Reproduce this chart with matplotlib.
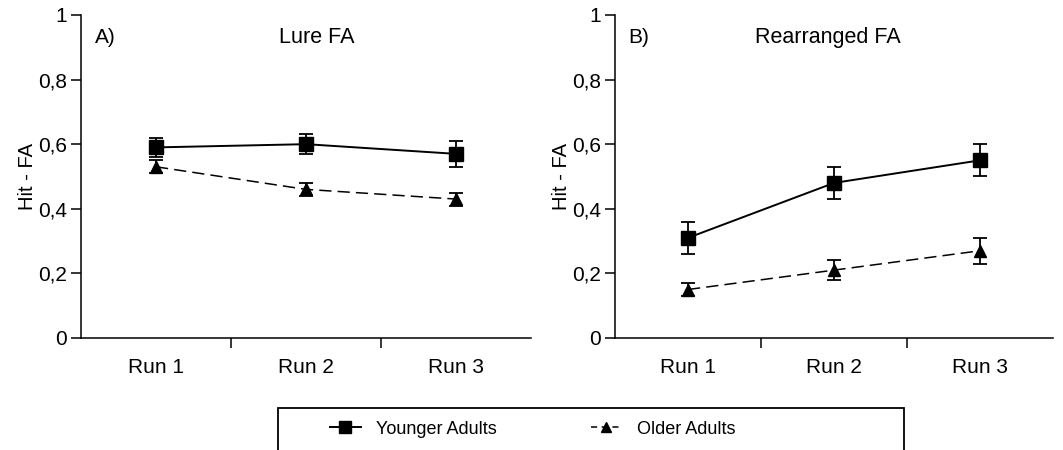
import matplotlib.pyplot as plt
from matplotlib.lines import Line2D
from matplotlib.patches import Rectangle
from matplotlib.ticker import FuncFormatter

plt.rcParams['font.family'] = ['Liberation Sans', 'DejaVu Sans']

runs = ['Run 1', 'Run 2', 'Run 3']

# Panel A: Lure FA
lure_young = [0.59, 0.60, 0.57]
lure_young_err = [0.03, 0.03, 0.04]
lure_old = [0.53, 0.46, 0.43]
lure_old_err = [0.02, 0.02, 0.02]

# Panel B: Rearranged FA
rear_young = [0.31, 0.48, 0.55]
rear_young_err = [0.05, 0.05, 0.05]
rear_old = [0.15, 0.21, 0.27]
rear_old_err = [0.02, 0.03, 0.04]

panels = [
    ('A)', 'Lure FA', 0.524, lure_young, lure_young_err, lure_old, lure_old_err),
    ('B)', 'Rearranged FA', 0.486, rear_young, rear_young_err, rear_old, rear_old_err),
]

fig = plt.figure(figsize=(10.63, 4.5), dpi=100)
axes = [fig.add_axes([0.0762, 0.249, 0.4233, 0.7177]),
        fig.add_axes([0.5786, 0.249, 0.412, 0.7177])]

fmt = FuncFormatter(lambda v, p: ('%g' % round(v, 1)).replace('.', ','))

for ax, (tag, title, tx, yv, ye, ov, oe) in zip(axes, panels):
    x = list(range(len(runs)))
    ax.errorbar(x, yv, yerr=ye, color='black', marker='s', markersize=9.5,
                lw=1.4, capsize=5, elinewidth=1.3, capthick=1.3)
    ho = ax.errorbar(x, ov, yerr=oe, color='black', marker='^', markersize=8.5,
                     lw=1.1, dashes=(8, 4), capsize=5, elinewidth=1.3,
                     capthick=1.3)
    for e in ho[2]:
        e.set_linestyle('-')
    ax.set_xlim(-0.5, 2.5)
    ax.set_ylim(0, 1)
    ax.set_xticks([0.5, 1.5])
    ax.set_xticklabels([])
    for i, r in enumerate(runs):
        ax.text(i, -0.093, r, ha='center', va='center', fontsize=15)
    ax.set_yticks([0, 0.2, 0.4, 0.6, 0.8, 1.0])
    ax.yaxis.set_major_formatter(fmt)
    ax.tick_params(axis='both', direction='out', length=7, width=1.1,
                   labelsize=15, pad=3)
    for s in ['left', 'bottom']:
        ax.spines[s].set_linewidth(1.1)
    ax.spines['top'].set_visible(False)
    ax.spines['right'].set_visible(False)
    ax.set_ylabel('Hit - FA', fontsize=14.5, labelpad=1)
    ax.text(0.03, 0.93, tag, transform=ax.transAxes, fontsize=15,
            ha='left', va='center')
    ax.text(tx, 0.93, title, transform=ax.transAxes, fontsize=15.5,
            ha='center', va='center')

# legend box, cut off by the bottom edge like in the original
fig.patches.append(Rectangle((278 / 1063, -0.02), 626 / 1063, 0.1133,
                             transform=fig.transFigure, fill=False,
                             edgecolor='black', lw=1.3))
handles = [Line2D([], [], color='black', marker='s', markersize=8, lw=1.4),
           Line2D([], [], color='black', marker='^', markersize=7.5, lw=1.1,
                  dashes=(4, 3))]
fig.legend(handles, ['Younger Adults', 'Older Adults'], loc='center left',
           bbox_to_anchor=(330 / 1063, 1 - 429 / 450), ncol=2, frameon=False,
           fontsize=13, handlelength=1.7, handletextpad=0.85,
           columnspacing=5.2, borderpad=0, borderaxespad=0)

fig.savefig('out.png', dpi=100)
